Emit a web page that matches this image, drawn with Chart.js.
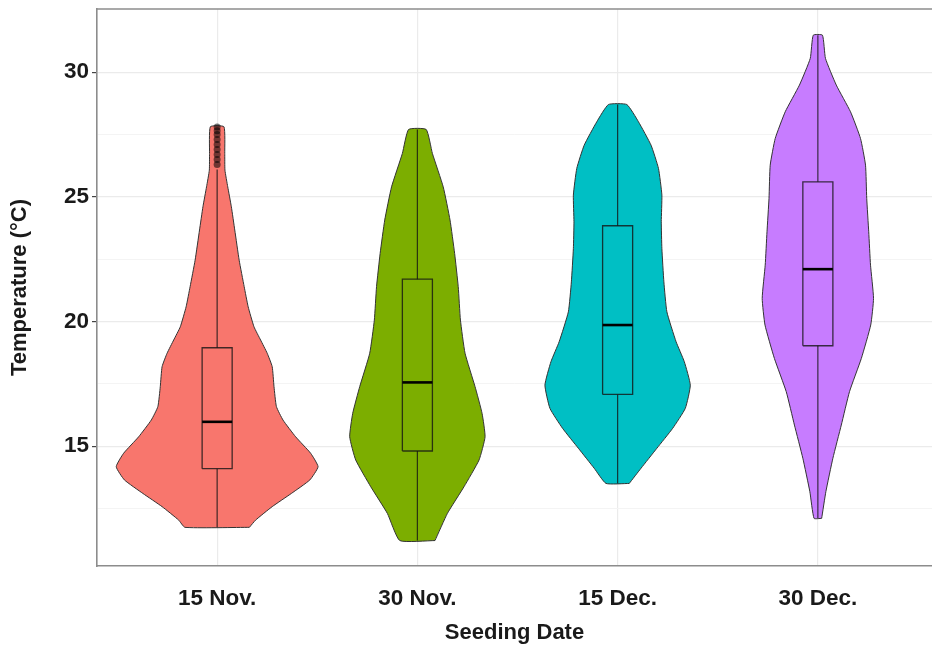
<!DOCTYPE html>
<html>
<head>
<meta charset="utf-8">
<script src="https://cdn.jsdelivr.net/npm/chart.js@4.4.1/dist/chart.umd.min.js"></script>
<style>
  html, body { margin: 0; padding: 0; background: #fff; overflow: hidden; }
  #wrap { width: 932px; height: 646px; }
</style>
</head>
<body>
<div id="wrap"><canvas id="chart" width="932" height="646"></canvas></div>
<script>
// categories and colours (ggplot default hues)
const categories = ['15 Nov.', '30 Nov.', '15 Dec.', '30 Dec.'];
const fillColors = ['#F8766D', '#7CAE00', '#00BFC4', '#C77CFF'];

// violin outlines: temperature levels and half widths (in category units), bottom to top
const tempNov15 = [11.75, 12.04, 12.58, 13.11, 13.65, 14.18, 14.72, 15.38, 16.05, 16.59, 17.39, 18.19, 18.73, 19.26, 19.79, 20.59, 21.40, 22.46, 23.67, 24.60, 25.40, 26.07, 26.74, 27.81];
const widthNov15 = [0.161, 0.192, 0.275, 0.371, 0.463, 0.504, 0.467, 0.392, 0.329, 0.296, 0.284, 0.275, 0.25, 0.217, 0.184, 0.155, 0.135, 0.11, 0.088, 0.071, 0.053, 0.039, 0.038, 0.034];

const tempNov30 = [11.22, 12.31, 13.38, 14.45, 15.38, 16.32, 17.39, 18.73, 20.06, 21.40, 22.73, 24.07, 25.40, 26.74, 27.70];
const widthNov30 = [0.088, 0.15, 0.233, 0.308, 0.338, 0.323, 0.288, 0.238, 0.215, 0.204, 0.186, 0.163, 0.129, 0.075, 0.044];

const tempDec15 = [13.51, 14.12, 14.92, 15.72, 16.52, 17.45, 18.39, 19.19, 20.39, 21.59, 22.93, 24.00, 25.07, 26.14, 27.07, 28.01, 28.70];
const widthDec15 = [0.058, 0.117, 0.196, 0.275, 0.338, 0.363, 0.333, 0.292, 0.246, 0.231, 0.221, 0.218, 0.221, 0.204, 0.167, 0.104, 0.046];

const tempDec30 = [12.11, 13.18, 14.52, 15.85, 17.19, 18.52, 19.86, 20.93, 22.26, 23.60, 24.94, 26.27, 27.34, 28.41, 29.48, 30.55, 31.48];
const widthDec30 = [0.019, 0.04, 0.075, 0.117, 0.158, 0.217, 0.264, 0.278, 0.263, 0.254, 0.244, 0.238, 0.213, 0.163, 0.092, 0.038, 0.023];

// box plot statistics per category
const whiskerLow = [11.75, 11.22, 13.51, 12.11];
const quartile1 = [14.1, 14.81, 17.08, 19.03];
const medians = [15.98, 17.56, 19.86, 22.10];
const quartile3 = [18.95, 21.70, 23.84, 25.60];
const whiskerHigh = [26.1, 27.70, 28.70, 31.48];

// outliers of 15 Nov.
const outliersNov15 = [26.3, 26.5, 26.7, 26.9, 27.1, 27.3, 27.5, 27.65, 27.8];

// y axis ticks (major labelled, minor only gridlines)
const yTicks = [12.5, 15, 17.5, 20, 22.5, 25, 27.5, 30];

const violinTemps = [tempNov15, tempNov30, tempDec15, tempDec30];
const violinWidths = [widthNov15, widthNov30, widthDec15, widthDec30];

const BOX_HALF = 0.075;
const FONT = "'Liberation Sans', Arial, sans-serif";

// closed outline: right side going up, left side coming down
function violinOutline(pos, temps, widths) {
  const pts = [];
  for (let i = 0; i < temps.length; i++) {
    pts.push({ x: pos + widths[i], y: temps[i] });
  }
  for (let i = temps.length - 1; i >= 0; i--) {
    pts.push({ x: pos - widths[i], y: temps[i] });
  }
  pts.push(pts[0]);
  return pts;
}

const datasets = [];

categories.forEach((cat, i) => {
  const pos = i + 1;

  datasets.push({
    data: violinOutline(pos, violinTemps[i], violinWidths[i]),
    borderColor: '#333',
    borderWidth: 1,
    backgroundColor: fillColors[i],
    fill: 'shape',
    tension: 0.15,
    order: 4,
  });

  // whisker
  datasets.push({
    data: [{ x: pos, y: whiskerLow[i] }, { x: pos, y: whiskerHigh[i] }],
    borderColor: 'rgba(20,20,20,0.8)',
    borderWidth: 1.2,
    fill: false,
    order: 3,
  });

  // box
  datasets.push({
    data: [
      { x: pos - BOX_HALF, y: quartile1[i] },
      { x: pos + BOX_HALF, y: quartile1[i] },
      { x: pos + BOX_HALF, y: quartile3[i] },
      { x: pos - BOX_HALF, y: quartile3[i] },
      { x: pos - BOX_HALF, y: quartile1[i] },
    ],
    borderColor: 'rgba(20,20,20,0.8)',
    borderWidth: 1.3,
    backgroundColor: fillColors[i],
    fill: 'shape',
    order: 2,
  });

  // median
  datasets.push({
    data: [{ x: pos - BOX_HALF, y: medians[i] }, { x: pos + BOX_HALF, y: medians[i] }],
    borderColor: '#000',
    borderWidth: 2.6,
    fill: false,
    order: 1,
  });
});

datasets.push({
  data: outliersNov15.map(v => ({ x: 1, y: v })),
  showLine: false,
  pointRadius: 3.5,
  pointBackgroundColor: 'rgba(0,0,0,0.55)',
  pointBorderWidth: 0,
  order: 0,
});

// ggplot style top border of the panel
const topBorder = {
  id: 'topBorder',
  afterDraw(chart) {
    const { ctx, chartArea } = chart;
    ctx.save();
    ctx.strokeStyle = '#8c8c8c';
    ctx.lineWidth = 1.6;
    ctx.beginPath();
    ctx.moveTo(chartArea.left, chartArea.top);
    ctx.lineTo(chartArea.right, chartArea.top);
    ctx.stroke();
    ctx.restore();
  },
};

new Chart(document.getElementById('chart'), {
  type: 'line',
  data: { datasets },
  plugins: [topBorder],
  options: {
    responsive: false,
    animation: false,
    layout: { autoPadding: false, padding: { top: 9, right: 0, left: 0, bottom: 0 } },
    elements: {
      point: { radius: 0, hoverRadius: 0 },
      line: { tension: 0 },
    },
    plugins: {
      legend: { display: false },
      tooltip: { enabled: false },
    },
    scales: {
      x: {
        type: 'linear',
        min: 0.4,
        max: 4.57,
        afterBuildTicks: scale => {
          scale.ticks = categories.map((c, i) => ({ value: i + 1 }));
        },
        afterFit: scale => {
          scale.height = 80;
          scale.paddingLeft = 0;
          scale.paddingRight = 0;
        },
        ticks: {
          callback: v => categories[v - 1],
          font: { family: FONT, size: 22.5, weight: 'bold' },
          color: '#1a1a1a',
          padding: 14,
          maxRotation: 0,
        },
        grid: {
          color: '#ebebeb',
          lineWidth: 1.2,
          tickLength: 5,
          tickColor: 'rgba(0,0,0,0)',
        },
        border: { color: '#8c8c8c', width: 1.6 },
        title: {
          display: true,
          text: 'Seeding Date',
          font: { family: FONT, size: 22, weight: 'bold' },
          color: '#1a1a1a',
          padding: 0,
        },
      },
      y: {
        type: 'linear',
        min: 10.2,
        max: 32.53,
        afterBuildTicks: scale => {
          scale.ticks = yTicks.map(v => ({ value: v }));
        },
        afterFit: scale => {
          scale.width = 97;
          scale.paddingTop = 0;
          scale.paddingBottom = 0;
        },
        ticks: {
          callback: v => (v % 5 === 0 ? String(v) : ''),
          font: { family: FONT, size: 22.5, weight: 'bold' },
          color: '#1a1a1a',
          padding: 3,
        },
        grid: {
          color: ctx => (ctx.tick && ctx.tick.value % 5 === 0 ? '#ebebeb' : '#f4f4f4'),
          lineWidth: ctx => (ctx.tick && ctx.tick.value % 5 === 0 ? 1.2 : 1),
          tickLength: 5,
          tickColor: ctx => (ctx.tick && ctx.tick.value % 5 === 0 ? '#444' : 'rgba(0,0,0,0)'),
        },
        border: { color: '#8c8c8c', width: 1.6 },
        title: {
          display: true,
          text: 'Temperature (°C)',
          font: { family: FONT, size: 22, weight: 'bold' },
          color: '#1a1a1a',
          padding: { top: 7, bottom: 0 },
        },
      },
    },
  },
});
</script>
</body>
</html>
